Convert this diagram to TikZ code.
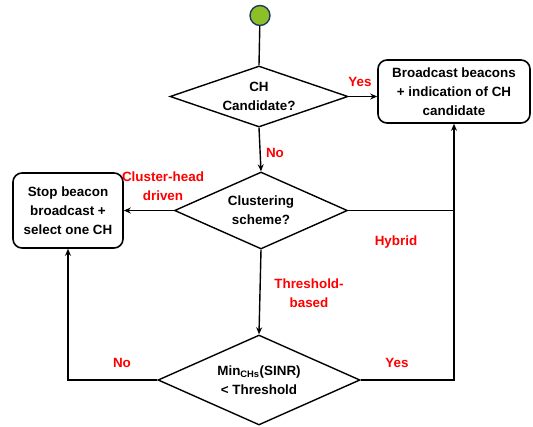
\documentclass[tikz,border=0pt]{standalone}
\usepackage{fontspec}
\setmainfont{Liberation Sans}
\usetikzlibrary{shapes.geometric,arrows.meta}
\definecolor{startgreen}{HTML}{8CC026}
\definecolor{startblue}{HTML}{1F3864}
\tikzset{
  every node/.style={font=\bfseries\fontsize{13.4}{18.8}\selectfont, align=center},
  decision/.style={diamond, draw, line width=1.4pt, inner sep=0pt},
  procbox/.style={rectangle, rounded corners=9pt, draw, line width=1.6pt, inner sep=0pt},
  lbl/.style={text=red},
  conn/.style={line width=1.4pt},
  arr/.style={conn, -{Stealth[length=7pt,width=6pt]}},
}
\begin{document}
\begin{tikzpicture}[x=1pt,y=-1pt]
\useasboundingbox (0,0) rectangle (533,426);
\node[circle, fill=startgreen, draw=startblue, line width=1.4pt, minimum size=20pt, inner sep=0pt] (start) at (260,15.5) {};
\node[decision, minimum width=178pt, minimum height=61pt, aspect=2.9] (d1) at (259,96.5) {CH\\Candidate?};
\node[procbox, minimum width=152pt, minimum height=63pt] (b1) at (454,91.5) {Broadcast beacons\\+ indication of CH\\candidate};
\node[decision, minimum width=173pt, minimum height=77pt, aspect=2.25] (d2) at (261,210.5) {Clustering\\scheme?};
\node[procbox, minimum width=110pt, minimum height=75pt] (b2) at (68,210.5) {Stop beacon\\broadcast +\\select one CH};
\node[decision, minimum width=202pt, minimum height=90pt, aspect=2.25] (d3) at (259,380) {Min\textsubscript{CHs}(SINR)\\< Threshold};
\coordinate (hyb) at (454,210.5);
\coordinate (rightc) at (454,380);
\coordinate (leftc) at (68,380);

\draw[conn] (start) -- (d1.north);
\draw[arr] (d1.east) -- (d1.east -| b1.west);
\draw[arr] (d1.south) -- (d2.north);
\draw[arr] (d2.west) -- (b2.east);
\draw[conn] (d2.east) -- (hyb);
\draw[arr] (d2.south) -- (d3.north);
\draw[arr] (d3.east) -- (rightc) -- (b1.south);
\draw[arr] (d3.west) -- (leftc) -- (b2.south);

\node[lbl] (lyes1) at (360,82) {Yes};
\node[lbl] (lno1) at (275,153) {No};
\node[lbl] (lch) at (163,186) {Cluster-head\\driven};
\node[lbl] (lhyb) at (396,242) {Hybrid};
\node[lbl] (lthr) at (309,293) {Threshold-\\based};
\node[lbl] (lno2) at (122,363) {No};
\node[lbl] (lyes2) at (397,363) {Yes};
\end{tikzpicture}
\end{document}
